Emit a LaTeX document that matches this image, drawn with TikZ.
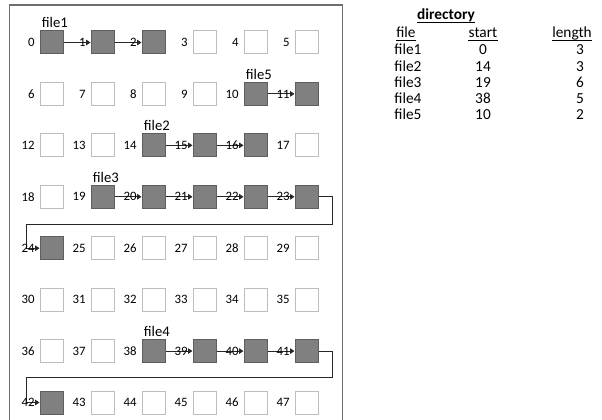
\documentclass[tikz,border=0pt]{standalone}
\usepackage{fontspec}
\setmainfont{Carlito}
\usetikzlibrary{arrows.meta}
\definecolor{fullfill}{HTML}{808080}
\definecolor{fullline}{HTML}{5E5E5E}
\definecolor{emptyline}{HTML}{BDBDBD}
\definecolor{framec}{HTML}{6E6E6E}
\definecolor{linkc}{HTML}{262626}
\begin{document}
\begin{tikzpicture}[x=0.75pt,y=-0.75pt,
  emptycell/.style={draw=emptyline,fill=white,line width=0.75pt,minimum size=17.25pt,inner sep=0pt},
  fullcell/.style={draw=fullline,fill=fullfill,line width=0.75pt,minimum size=17.25pt,inner sep=0pt},
  num/.style={font=\fontsize{9.6}{11}\selectfont,inner sep=0pt,anchor=east},
  flab/.style={font=\fontsize{11}{13}\selectfont,inner sep=0pt,anchor=base},
  tab/.style={font=\fontsize{11.5}{14}\selectfont,inner sep=0pt,anchor=base},
  ul/.style={draw=black,line width=0.6pt},
  link/.style={draw=linkc,line width=0.75pt,-{Triangle[length=3.2pt,width=4pt]}},
  frame/.style={draw=framec,line width=1.4pt}]
\useasboundingbox (0,0) rectangle (602,420);
\clip (0,0) rectangle (602,420);
\draw[frame] (9.5,5) rectangle (342.5,440);
% cells
\foreach \i in {0,...,47}{
  \pgfmathtruncatemacro\r{int(\i/6)}
  \pgfmathtruncatemacro\c{\i-6*\r}
  \gdef\cellst{emptycell}
  \foreach \j in {0,1,2,10,11,14,15,16,19,20,21,22,23,24,38,39,40,41,42}{\ifnum\i=\j\relax\gdef\cellst{fullcell}\fi}
  \node[\cellst] (b\i) at ({51.5+51*\c},{42.5+51.43*\r}) {};
}
% links
\foreach \a/\b in {0/1,1/2,10/11,14/15,15/16,19/20,20/21,21/22,22/23,38/39,39/40,40/41}{
  \draw[link] (b\a.east) -- (b\b.west);
}
\coordinate (r1) at (332,224.5);
\coordinate (l1) at (26,224.5);
\coordinate (r2) at (332,377);
\coordinate (l2) at (26,377);
\draw[link] (b23.east) -| (r1) -- (l1) |- (b24.west);
\draw[link] (b41.east) -| (r2) -- (l2) |- (b42.west);
% numbers
\foreach \i in {0,...,47}{
  \node[num] (n\i) at ([xshift=-3.5pt]b\i.west) {\i};
}
% file labels
\node[flab] (f1) at ([xshift=2.5pt,yshift=2pt]b0.north) {file1};
\node[flab] (f2) at ([xshift=2.5pt,yshift=2pt]b14.north) {file2};
\node[flab] (f3) at ([xshift=2.5pt,yshift=2pt]b19.north) {file3};
\node[flab] (f4) at ([xshift=2.5pt,yshift=2pt]b38.north) {file4};
\node[flab] (f5) at ([xshift=2.5pt,yshift=2pt]b10.north) {file5};
% directory table
\node[tab] (dir) at (446,20) {\bfseries directory};
\node[tab] (hf) at (406,38) {file};
\node[tab] (hs) at (483,38) {start};
\node[tab] (hl) at (572,38) {length};
\foreach \n in {dir,hf,hs,hl}{
  \draw[ul] ([yshift=-1.6pt]\n.base west) -- ([yshift=-1.6pt]\n.base east);
}
\foreach \k/\f/\s/\l in {0/file1/0/3,1/file2/14/3,2/file3/19/6,3/file4/38/5,4/file5/10/2}{
  \node[tab] (tf\k) at (408,{55+16.25*\k}) {\f};
  \node[tab] (ts\k) at (483,{55+16.25*\k}) {\s};
  \node[tab] (tl\k) at (580,{55+16.25*\k}) {\l};
}
\end{tikzpicture}
\end{document}
